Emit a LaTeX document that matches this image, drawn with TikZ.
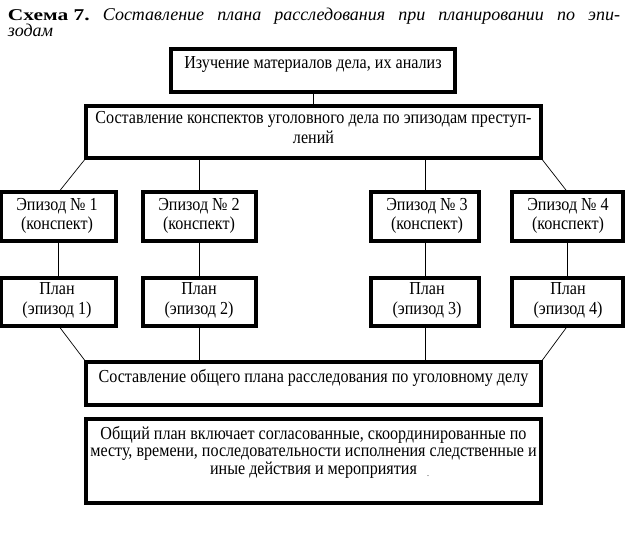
\documentclass[tikz,border=0pt]{standalone}
\usepackage{graphicx}
\usepackage{fontspec}
\setmainfont{Liberation Serif}
\newfontfamily\boxfont{Liberation Serif}[FakeStretch=0.88]
\begin{document}
\begin{tikzpicture}[x=1pt,y=-1pt,
  box/.style={draw, line width=3.3pt, inner sep=0pt, outer sep=0pt},
  con/.style={line width=0.7pt},
  txt/.style={inner sep=0pt, outer sep=0pt, align=center, anchor=north, font=\boxfont\fontsize{18.3}{19.5}\selectfont},
  ttl/.style={inner sep=0pt, outer sep=0pt, anchor=base west, font=\fontsize{18}{20}\selectfont}]
\useasboundingbox (0,0) rectangle (626,557);
% title
\node[ttl] (t1) at (8,20) {\makebox[612pt][s]{\scalebox{1.3}[1]{\fontsize{16.5}{20}\selectfont\bfseries Схема 7.} \itshape Составление плана расследования при планировании по эпи-}};
\node[ttl] (t2) at (8,36) {\itshape зодам};
% boxes
\node[box, minimum width=284pt, minimum height=43pt] (b1) at (313,70.5) {};
\node[box, minimum width=455pt, minimum height=52pt] (b2) at (313.5,132) {};
\node[box, minimum width=114.5pt, minimum height=49pt] (e1) at (58.75,216.5) {};
\node[box, minimum width=113pt, minimum height=49pt] (e2) at (199.5,216.5) {};
\node[box, minimum width=108pt, minimum height=49pt] (e3) at (425,216.5) {};
\node[box, minimum width=111pt, minimum height=49pt] (e4) at (567.5,216.5) {};
\node[box, minimum width=114.5pt, minimum height=48pt] (p1) at (58.75,302) {};
\node[box, minimum width=113pt, minimum height=48pt] (p2) at (199.5,302) {};
\node[box, minimum width=108pt, minimum height=48pt] (p3) at (425,302) {};
\node[box, minimum width=111pt, minimum height=48pt] (p4) at (567.5,302) {};
\node[box, minimum width=455pt, minimum height=43pt] (b3) at (313.5,383.5) {};
\node[box, minimum width=455pt, minimum height=84pt] (b4) at (313.5,461) {};
% texts
\node[txt] (b1t) at (313,57) {Изучение материалов дела, их анализ};
\node[txt, font=\boxfont\fontsize{18.3}{20}\selectfont] (b2t) at (313.5,111) {Составление конспектов уголовного дела по эпизодам преступ-\\лений};
\node[txt] (e1t) at (57,198) {Эпизод № 1\\(конспект)};
\node[txt] (e2t) at (199,198) {Эпизод № 2\\(конспект)};
\node[txt] (e3t) at (427,198) {Эпизод № 3\\(конспект)};
\node[txt] (e4t) at (568,198) {Эпизод № 4\\(конспект)};
\node[txt] (p1t) at (57,283) {План\\(эпизод 1)};
\node[txt] (p2t) at (199,283) {План\\(эпизод 2)};
\node[txt] (p3t) at (427,283) {План\\(эпизод 3)};
\node[txt] (p4t) at (568,283) {План\\(эпизод 4)};
\node[txt] (b3t) at (313.5,369) {Составление общего плана расследования по уголовному делу};
\node[txt, font=\boxfont\fontsize{18.3}{17.5}\selectfont] (b4t) at (313.5,426) {Общий план включает согласованные, скоординированные по\\месту, времени, последовательности исполнения следственные и\\иные действия и мероприятия};
\node[inner sep=0pt, font=\fontsize{8}{8}\selectfont] (dot) at (428,476) {.};
% connectors
\draw[con] (b1.south) -- (b2.north -| b1.south);
\draw[con] (b2.south west) -- (e1.north);
\draw[con] (b2.south -| e2.north) -- (e2.north);
\draw[con] (b2.south -| e3.north) -- (e3.north);
\draw[con] (b2.south east) -- (e4.north);
\draw[con] (e1.south) -- (p1.north);
\draw[con] (e2.south) -- (p2.north);
\draw[con] (e3.south) -- (p3.north);
\draw[con] (e4.south) -- (p4.north);
\draw[con] (p1.south) -- (b3.north west);
\draw[con] (p2.south) -- (b3.north -| p2.south);
\draw[con] (p3.south) -- (b3.north -| p3.south);
\draw[con] (p4.south) -- (b3.north east);
\end{tikzpicture}
\end{document}
